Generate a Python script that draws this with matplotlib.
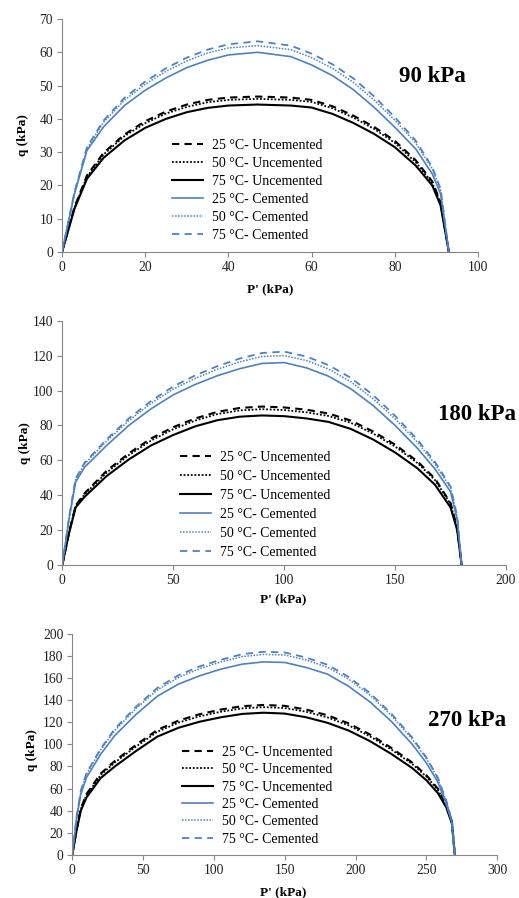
import matplotlib
matplotlib.use('Agg')
import matplotlib.pyplot as plt

plt.rcParams['font.family'] = ['Liberation Serif', 'DejaVu Serif']

BLUE = '#4F81BD'
GREY = '#868686'

labels = ['25 \u00b0C- Uncemented', '50 \u00b0C- Uncemented', '75 \u00b0C- Uncemented',
          '25 \u00b0C- Cemented', '50 \u00b0C- Cemented', '75 \u00b0C- Cemented']

# ---- 90 kPa ----
p90 = [0, 3, 6, 10, 15, 20, 25, 30, 35, 40, 47, 55, 60, 65, 70, 75, 80, 85, 89, 91, 93]
q90_unc25 = [0, 13.5, 23, 29.8, 35.3, 39.3, 42.2, 44.3, 45.7, 46.4, 46.7, 46.4, 45.7, 43.8, 41, 37.6, 33.4, 27.6, 21.2, 15, 0]
q90_unc50 = [0, 13.3, 22.6, 29.3, 34.8, 38.7, 41.6, 43.6, 45, 45.7, 46, 45.7, 45.1, 43.2, 40.4, 37, 32.8, 27, 20.8, 14.7, 0]
q90_unc75 = [0, 13, 22, 28.3, 33.5, 37.3, 40, 42, 43.3, 44, 44.3, 44, 43.4, 41.5, 38.8, 35.5, 31.5, 26, 20, 14, 0]
q90_cem25 = [0, 17.5, 30.5, 37.6, 44, 48.6, 52.3, 55.4, 57.6, 59.2, 60, 58.7, 56.2, 53, 48.8, 43.5, 37.5, 31, 23.5, 17.5, 0]
q90_cem50 = [0, 17.8, 31, 39, 45.6, 50.4, 54.3, 57.4, 59.8, 61.3, 62, 60.8, 58.4, 55.2, 51, 45.7, 39.6, 32.8, 25, 18.6, 0]
q90_cem75 = [0, 18, 31.5, 39.5, 46.3, 51.2, 55.2, 58.4, 60.8, 62.4, 63.3, 62, 59.6, 56.4, 52.2, 46.8, 40.5, 33.5, 25.5, 19, 0]

# ---- 180 kPa ----
p180 = [0, 3, 6, 10, 20, 30, 40, 50, 60, 70, 80, 90, 100, 110, 120, 130, 140, 150, 160, 168, 175, 178, 180]
q180_unc25 = [0, 18.5, 34, 41, 54, 64, 72.5, 79, 84, 87.8, 90, 90.8, 90.3, 89, 86.8, 82.8, 76.6, 69, 59.5, 49.5, 35.5, 21, 0]
q180_unc50 = [0, 18.3, 33.6, 40.4, 53, 63, 71.3, 77.8, 82.8, 86.5, 88.6, 89.3, 88.8, 87.5, 85.4, 81.5, 75.4, 67.9, 58.5, 48.7, 35, 20.7, 0]
q180_unc75 = [0, 18, 33, 39, 51, 60.5, 68.5, 74.5, 79.5, 83, 85, 85.7, 85.3, 84, 82, 78, 72, 64.5, 55.5, 46, 33, 20, 0]
q180_cem25 = [0, 26, 47.5, 56, 68.5, 80, 89.5, 97.5, 103.5, 108.5, 112.5, 115.5, 116, 113, 108.2, 101, 91.5, 80, 67, 55, 42, 26, 0]
q180_cem50 = [0, 26.7, 49, 57.8, 71, 82.8, 92.6, 100.8, 107, 112.2, 116.4, 119.5, 120, 117.2, 112.3, 105, 95.4, 83.8, 70.5, 57.8, 44.2, 27.5, 0]
q180_cem75 = [0, 27, 49.5, 58.5, 72, 84, 94, 102.3, 108.7, 114, 118.3, 121.5, 122.3, 119.5, 114.5, 107.3, 97.5, 85.5, 72, 59, 45, 28, 0]

# ---- 270 kPa ----
p270 = [0, 3, 6, 10, 20, 30, 45, 60, 75, 90, 105, 120, 135, 150, 165, 180, 195, 210, 225, 240, 250, 258, 264, 268, 270]
q270_unc25 = [0, 23, 42, 55, 73.5, 85, 99.5, 113, 121.5, 127.3, 131.5, 134.5, 135.6, 134.8, 131.5, 126.3, 119, 109, 97, 83.5, 72, 60, 46, 30, 0]
q270_unc50 = [0, 22.7, 41.4, 54, 72.3, 83.6, 98, 111.3, 119.7, 125.4, 129.5, 132.5, 133.6, 132.8, 129.5, 124.4, 117.2, 107.3, 95.5, 82.2, 70.8, 59, 45.3, 29.5, 0]
q270_unc75 = [0, 22, 40, 52, 69.5, 80, 94, 107, 115, 120.5, 124.5, 127.5, 128.6, 127.8, 124.5, 119.5, 112.5, 103, 91.5, 78.5, 67.5, 56, 43, 28, 0]
q270_cem25 = [0, 33, 55, 70, 91, 108, 127, 143.5, 154.5, 162, 168, 172.5, 174.5, 174, 169.5, 163.5, 152.5, 138.5, 121, 100, 83, 66, 46, 29, 0]
q270_cem50 = [0, 34, 57.2, 73, 94.8, 112.5, 132.3, 149.2, 160.5, 168.5, 174.5, 179.3, 181.3, 180.7, 176.3, 169.8, 159, 144.6, 126.4, 104.7, 86.9, 69.2, 48.4, 30.6, 0]
q270_cem75 = [0, 34.5, 58, 74, 96, 114, 134, 151, 162.5, 170.5, 176.5, 181.5, 183.7, 183, 178.5, 172, 161, 146.5, 128, 106, 88, 70, 49, 31, 0]

styles = [
    dict(color='black', ls=(0, (3.5, 2.5)), lw=1.5),
    dict(color='black', ls=(0, (1, 1)), lw=1.3),
    dict(color='black', ls='-', lw=1.5),
    dict(color=BLUE, ls='-', lw=1.2),
    dict(color=BLUE, ls=(0, (1, 1)), lw=1.1),
    dict(color=BLUE, ls=(0, (4, 3)), lw=1.3),
]

W, H = 519, 898
fig = plt.figure(figsize=(W / 100, H / 100), dpi=100)

panels = [
    # x px left,right ; y px bottom,top
    dict(box=(62, 478, 252, 19), p=p90,
         qs=[q90_unc25, q90_unc50, q90_unc75, q90_cem25, q90_cem50, q90_cem75],
         xlim=100, xstep=20, ylim=70, ystep=10, title='90 kPa', tpos=(432, 77),
         leg=(172, 139), sp=0.36, xl=(0.5, -0.133), yl=(-0.08, 0.5)),
    dict(box=(62.3, 506, 565, 320.7), p=p180,
         qs=[q180_unc25, q180_unc50, q180_unc75, q180_cem25, q180_cem50, q180_cem75],
         xlim=200, xstep=50, ylim=140, ystep=20, title='180 kPa', tpos=(477, 415),
         leg=(180, 451), sp=0.43, xl=(0.497, -0.115), yl=(-0.07, 0.5)),
    dict(box=(72.3, 497.3, 855, 633.7), p=p270,
         qs=[q270_unc25, q270_unc50, q270_unc75, q270_cem25, q270_cem50, q270_cem75],
         xlim=300, xstep=50, ylim=200, ystep=20, title='270 kPa', tpos=(467, 720),
         leg=(182, 746), sp=0.31, xl=(0.496, -0.14), yl=(-0.08, 0.474)),
]

for pn in panels:
    x0, x1, yb, yt = pn['box']
    ax = fig.add_axes([x0 / W, 1 - yb / H, (x1 - x0) / W, (yb - yt) / H])
    for q, st, lab in zip(pn['qs'], styles, labels):
        ax.plot(pn['p'], q, label=lab, **st)
    ax.set_xlim(0, pn['xlim'])
    ax.set_ylim(0, pn['ylim'])
    ax.set_xticks(range(0, pn['xlim'] + 1, pn['xstep']))
    ax.set_yticks(range(0, pn['ylim'] + 1, pn['ystep']))
    for s in ['top', 'right']:
        ax.spines[s].set_visible(False)
    for s in ['left', 'bottom']:
        ax.spines[s].set_color(GREY)
        ax.spines[s].set_linewidth(0.8)
    ax.tick_params(direction='out', length=3.5, width=0.8, color=GREY,
                   labelsize=9.8, labelcolor='#222222', pad=3)
    ax.set_xlabel("P' (kPa)", fontsize=9.5, fontweight='bold')
    ax.set_ylabel('q (kPa)', fontsize=9.5, fontweight='bold')
    ax.xaxis.set_label_coords(*pn['xl'])
    ax.yaxis.set_label_coords(*pn['yl'])
    lx, ly = pn['leg']
    ax.legend(loc='upper left', bbox_to_anchor=(lx / W, 1 - ly / H),
              bbox_transform=fig.transFigure, frameon=False, fontsize=10,
              borderpad=0, borderaxespad=0, handlelength=2.25,
              handletextpad=0.6, labelspacing=pn['sp'])
    tx, ty = pn['tpos']
    fig.text(tx / W, 1 - ty / H, pn['title'], fontsize=16.5, fontweight='bold',
             ha='center', va='center')

fig.savefig('out.png', dpi=100)
